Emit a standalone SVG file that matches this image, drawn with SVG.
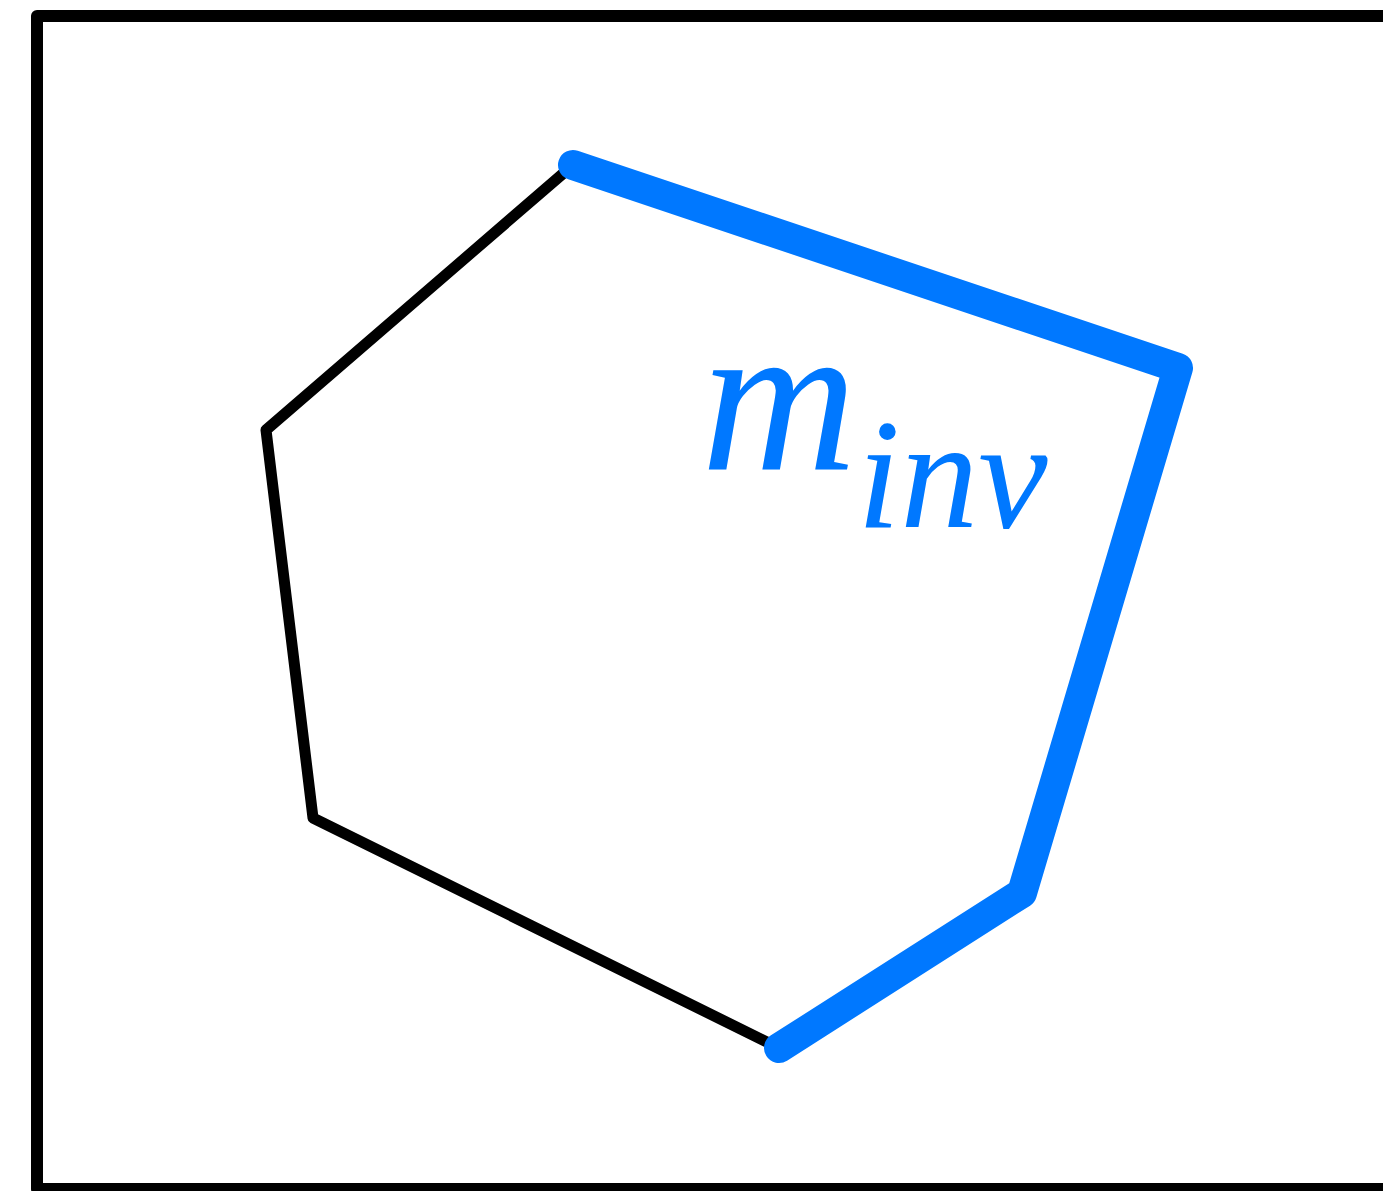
<svg xmlns="http://www.w3.org/2000/svg" width="1383" height="1191" viewBox="0 0 1383 1191">
<style>
.frame{fill:none;stroke:#000;stroke-width:12;stroke-linejoin:round}
.edge{fill:none;stroke:#000;stroke-width:11;stroke-linejoin:round;stroke-linecap:round}
.hl{fill:none;stroke:#0078ff;stroke-width:30;stroke-linejoin:round;stroke-linecap:round}
.lbl{font-family:"Liberation Serif","DejaVu Serif",serif;font-style:italic;fill:#0078ff}
</style>
<rect id="frame" class="frame" x="37" y="16" width="1420" height="1173"/>
<g id="connectors">
<polyline class="edge" points="573,165 266,430 313,818 779,1048"/>
<polyline class="hl" points="573,165 1178,368 1022,893 779,1048"/>
</g>
<g id="label">
<text class="lbl" x="701" y="470" font-size="216">m<tspan font-size="156" dy="57">inv</tspan></text>
</g>
</svg>
